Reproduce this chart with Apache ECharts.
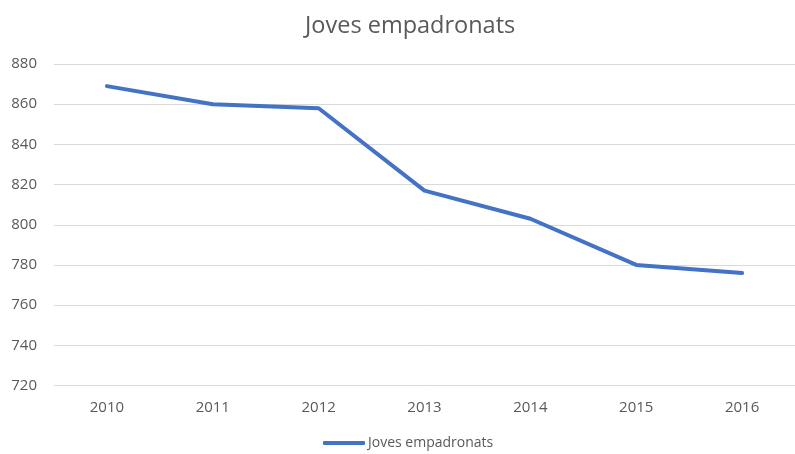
<!DOCTYPE html>
<html><head><meta charset="utf-8">
<script src="https://cdn.jsdelivr.net/npm/echarts@6/dist/echarts.min.js"></script>
<style>html,body{margin:0;padding:0;background:#fff}#c{width:795px;height:454px}</style>
</head><body><div id="c"></div>
<script>
const categories = ['2010','2011','2012','2013','2014','2015','2016'];
const values = [869, 860, 858, 817, 803, 780, 776];
const seriesName = 'Joves empadronats';
const titleText = 'Joves empadronats';

const font = '"Open Sans", "Liberation Sans", sans-serif';
const chart = echarts.init(document.getElementById('c'));
chart.setOption({
  animation: false,
  backgroundColor: '#fff',
  title: { text: titleText, left: 300, top: 9,
    textStyle: { fontFamily: font, fontSize: 23.5, fontWeight: 'normal', color: '#595959' } },
  legend: { top: 431, left: 318, itemWidth: 42, itemHeight: 4, itemGap: 2,
    icon: 'roundRect',
    textStyle: { fontFamily: font, fontSize: 14, color: '#595959', padding: [0,0,0,-2] },
    data: [seriesName] },
  grid: { left: 54, top: 64, width: 751, height: 321.5, containLabel: false },
  xAxis: { type: 'category', data: categories, boundaryGap: true,
    axisLine: { show: false }, axisTick: { show: false },
    axisLabel: { fontFamily: font, fontSize: 15, color: '#595959', margin: 15 } },
  yAxis: { type: 'value', min: 720, max: 880, interval: 20,
    axisLine: { show: false }, axisTick: { show: false },
    axisLabel: { fontFamily: font, fontSize: 15, color: '#595959', margin: 17 },
    splitLine: { lineStyle: { color: '#d9d9d9', width: 1 } } },
  series: [{ name: seriesName, type: 'line', data: values, showSymbol: false, symbol: 'none',
    lineStyle: { color: '#4472C4', width: 4, cap: 'round', join: 'round' },
    itemStyle: { color: '#4472C4' } }]
});
</script></body></html>
